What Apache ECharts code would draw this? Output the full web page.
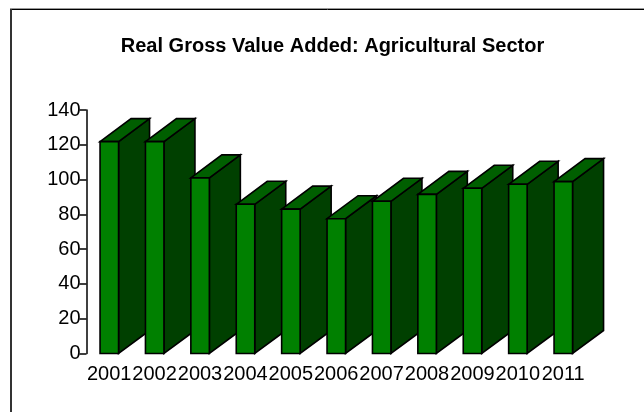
<!DOCTYPE html>
<html><head><meta charset="utf-8">
<style>html,body{margin:0;padding:0;background:#fff}#c{width:644px;height:412px}</style>
<script src="https://cdn.jsdelivr.net/npm/echarts@6/dist/echarts.min.js"></script>
</head><body><div id="c"></div>
<script>
const years = ['2001','2002','2003','2004','2005','2006','2007','2008','2009','2010','2011'];
const values = [121.8,121.8,101,85.8,83,77.5,87.5,91.5,95,97.3,98.8];
const yTicks = {min:0,max:140,interval:20};
const chart = echarts.init(document.getElementById('c'),null,{renderer:'canvas'});
const DX=31, DY=23, W=18.5;
const sty = f => ({fill:f,stroke:'#000',lineWidth:1.6,lineJoin:'miter'});
chart.setOption({
  animation:false,
  backgroundColor:'#fff',
  title:{text:'Real Gross Value Added: Agricultural Sector',left:327.5,top:31,textAlign:'center',
    textStyle:{fontFamily:'Liberation Sans',fontSize:20,fontWeight:'bold',color:'#000'}},
  graphic:[
    {type:'line',shape:{x1:10,y1:8.5,x2:644,y2:8.5},style:{stroke:'#999',lineWidth:1}},
    {type:'line',shape:{x1:11,y1:9.5,x2:644,y2:9.5},style:{stroke:'#000',lineWidth:1}},
    {type:'line',shape:{x1:11,y1:9,x2:11,y2:412},style:{stroke:'#333',lineWidth:2}}
  ],
  grid:{left:86.5,top:110,width:499.4,height:243.5},
  xAxis:{type:'category',data:years,axisLine:{show:false},axisTick:{show:false},
    axisLabel:{interval:0,margin:11,fontFamily:'Liberation Sans',fontSize:20,color:'#000'}},
  yAxis:{type:'value',...yTicks,splitLine:{show:false},
    axisLine:{show:true,lineStyle:{color:'#000',width:1.5}},
    axisTick:{show:true,length:7,lineStyle:{color:'#000',width:1.5}},
    axisLabel:{margin:6,fontFamily:'Liberation Sans',fontSize:20,color:'#000'}},
  series:[{type:'custom',data:values.map((v,i)=>[i,v]),encode:{x:0,y:1},clip:false,
    renderItem:(p,api)=>{
      const top=api.coord([api.value(0),api.value(1)]), base=api.coord([api.value(0),0]);
      const x0=top[0]-W/2+0.1,x1=x0+W,yt=top[1],yb=base[1];
      return {type:'group',children:[
        {type:'polygon',shape:{points:[[x1,yt],[x1+DX,yt-DY],[x1+DX,yb-DY],[x1,yb]]},style:sty('#004000')},
        {type:'polygon',shape:{points:[[x0,yt],[x0+DX,yt-DY],[x1+DX,yt-DY],[x1,yt]]},style:sty('#005f00')},
        {type:'rect',shape:{x:x0,y:yt,width:W,height:yb-yt},style:sty('#008000')}
      ]};
    }}]
});
</script></body></html>
